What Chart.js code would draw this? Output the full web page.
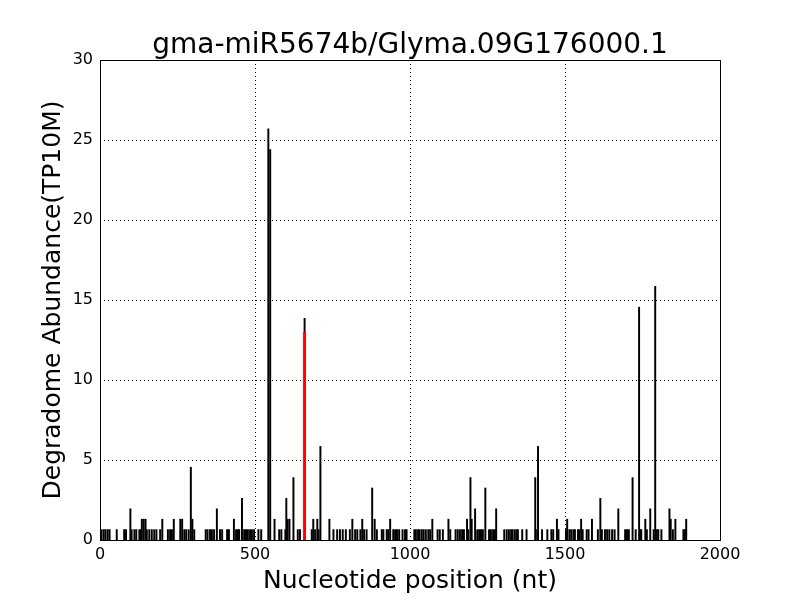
<!DOCTYPE html>
<html>
<head>
<meta charset="utf-8">
<script src="https://cdn.jsdelivr.net/npm/chart.js@4/dist/chart.umd.min.js"></script>
<style>
  html, body { margin: 0; padding: 0; background: #fff; }
  #wrap { width: 800px; height: 600px; }
</style>
</head>
<body>
<div id="wrap"><canvas id="c" width="800" height="600"></canvas></div>
<script>
const chartTitle = "gma-miR5674b/Glyma.09G176000.1";
const xAxisTitle = "Nucleotide position (nt)";
const yAxisTitle = "Degradome Abundance(TP10M)";
const xTicks = [0, 500, 1000, 1500, 2000];
const yTicks = [0, 5, 10, 15, 20, 25, 30];

// Degradome tags: positions (nt) and abundance (TP10M)
const tagPositions = [
  5, 12, 18, 25, 31, 54, 78, 84, 98, 102, 111, 117, 127, 131, 135, 141, 147, 151, 159, 167,
  175, 182, 194, 201, 219, 226, 232, 238, 259, 265, 272, 278, 286, 293, 298, 304,
  341, 347, 355, 361, 368, 377, 387, 394, 410, 416, 432, 439, 445, 449, 458, 465, 471, 477,
  484, 490, 497, 511, 520, 543, 549, 563, 578, 585, 598, 601, 605, 611, 624, 638, 645, 660,
  683, 688, 694, 701, 705, 711, 740, 753, 765, 774, 783, 793, 806, 814, 823, 830, 840, 846,
  852, 860, 878, 886, 893, 909, 914, 925, 930, 936, 946, 952, 958, 965, 976, 984, 989,
  1014, 1019, 1026, 1031, 1038, 1044, 1051, 1059, 1065, 1072, 1089, 1096, 1106, 1124, 1130,
  1147, 1154, 1161, 1168, 1174, 1184, 1188, 1195, 1199, 1210, 1217, 1223, 1229, 1235, 1243,
  1255, 1261, 1268, 1274, 1278, 1304, 1312, 1319, 1326, 1331, 1338, 1344, 1348, 1362, 1376,
  1404, 1406, 1413, 1426, 1443, 1456, 1462, 1474, 1479, 1503, 1507, 1514, 1520, 1527, 1532,
  1542, 1546, 1552, 1557, 1570, 1576, 1587, 1606, 1614, 1619, 1629, 1636, 1643, 1652, 1660,
  1672, 1694, 1700, 1706, 1718, 1728, 1739, 1743, 1746, 1759, 1764, 1775, 1786, 1791, 1796,
  1801, 1811, 1837, 1841, 1848, 1856, 1882, 1887, 1891
];
const tagValues = [
  0.65, 0.65, 0.65, 0.65, 0.65, 0.65, 0.65, 0.65, 1.95, 0.65, 0.65, 0.65, 0.65, 0.65, 1.3, 1.3, 1.3, 0.65, 0.65, 0.65,
  0.65, 0.65, 0.65, 1.3, 0.65, 0.65, 0.65, 1.3, 1.3, 1.3, 0.65, 0.65, 0.65, 4.55, 1.3, 0.65,
  0.65, 0.65, 0.65, 0.65, 0.65, 1.95, 0.65, 0.65, 0.65, 0.65, 1.3, 0.65, 0.65, 0.65, 2.6, 0.65, 0.65, 0.65,
  0.65, 0.65, 0.65, 0.65, 0.65, 25.7, 24.4, 1.3, 0.65, 0.65, 0.65, 2.6, 1.3, 1.3, 3.9, 0.65, 0.65, 13.85,
  0.65, 1.3, 0.65, 1.3, 0.65, 5.85, 1.3, 0.65, 0.65, 0.65, 0.65, 0.65, 0.65, 1.3, 0.65, 0.65, 0.65, 1.3,
  0.65, 0.65, 3.25, 1.3, 0.65, 0.65, 0.65, 0.65, 0.65, 1.3, 0.65, 0.65, 0.65, 0.65, 0.65, 0.65, 0.65,
  0.65, 0.65, 0.65, 0.65, 0.65, 0.65, 0.65, 0.65, 0.65, 1.3, 0.65, 0.65, 0.65, 1.3, 0.65,
  0.65, 0.65, 0.65, 0.65, 0.65, 1.3, 0.65, 3.9, 1.3, 1.95, 0.65, 0.65, 0.65, 0.65, 3.25,
  0.65, 0.65, 0.65, 0.65, 1.95, 0.65, 0.65, 0.65, 0.65, 0.65, 0.65, 0.65, 0.65, 0.65, 0.65,
  3.9, 0.65, 5.85, 0.65, 0.65, 0.65, 0.65, 1.3, 0.65, 0.65, 1.3, 0.65, 0.65, 0.65, 0.65,
  0.65, 0.65, 1.3, 0.65, 0.65, 0.65, 1.3, 0.65, 2.6, 0.65, 0.65, 0.65, 0.65, 0.65, 0.65,
  1.95, 0.65, 0.65, 0.65, 3.9, 0.65, 14.55, 0.65, 0.65, 1.3, 0.65, 1.95, 0.65, 15.85, 0.65,
  0.65, 0.65, 1.95, 1.3, 0.65, 1.3, 0.65, 0.65, 1.3
];
// Cleavage site highlighted in red
const sitePositions = [660];
const siteValues = [13.0];

const FONT = "'DejaVu Sans', sans-serif";

const framePlugin = {
  id: 'frame',
  beforeDatasetsDraw(chart) {
    const {ctx, chartArea: a, scales} = chart;
    ctx.save();
    ctx.strokeStyle = '#000';
    ctx.lineWidth = 1;
    ctx.setLineDash([1, 3]);
    xTicks.forEach(v => {
      const x = Math.round(scales.x.getPixelForValue(v)) + 0.5;
      ctx.beginPath(); ctx.moveTo(x, a.top); ctx.lineTo(x, a.bottom); ctx.stroke();
    });
    yTicks.forEach(v => {
      const y = Math.round(scales.y.getPixelForValue(v)) + 0.5;
      ctx.beginPath(); ctx.moveTo(a.left, y); ctx.lineTo(a.right, y); ctx.stroke();
    });
    ctx.restore();
  },
  afterDraw(chart) {
    const {ctx, chartArea: a} = chart;
    ctx.save();
    ctx.strokeStyle = '#000';
    ctx.lineWidth = 1;
    ctx.strokeRect(Math.round(a.left) + 0.5, Math.round(a.top) + 0.5,
                   Math.round(a.right - a.left), Math.round(a.bottom - a.top));
    ctx.fillStyle = '#000';
    ctx.font = '28px ' + FONT;
    ctx.textAlign = 'center';
    ctx.textBaseline = 'alphabetic';
    ctx.fillText(chartTitle, (a.left + a.right) / 2, 53);
    ctx.restore();
  }
};

new Chart(document.getElementById('c'), {
  type: 'bar',
  data: {
    datasets: [
      {
        label: 'site',
        data: sitePositions.map((p, i) => ({x: p, y: siteValues[i]})),
        backgroundColor: '#ff0000',
        barThickness: 2.2,
        grouped: false
      },
      {
        label: 'tags',
        data: tagPositions.map((p, i) => ({x: p, y: tagValues[i]})),
        backgroundColor: '#000000',
        barThickness: 1.3,
        grouped: false
      }
    ]
  },
  options: {
    responsive: false,
    animation: false,
    devicePixelRatio: 1,
    layout: { padding: { left: 0, right: 80, top: 60, bottom: 0 } },
    plugins: { legend: { display: false }, tooltip: { enabled: false }, title: { display: false } },
    scales: {
      x: {
        type: 'linear',
        min: 0, max: 2000,
        offset: false,
        afterBuildTicks: s => { s.ticks = xTicks.map(v => ({value: v})); },
        afterFit: s => { s.height = 60; },
        grid: { display: false, drawTicks: false },
        border: { display: false },
        ticks: { color: '#000', font: { family: FONT, size: 16 }, padding: 5, maxRotation: 0, autoSkip: false,
                 callback: v => String(v) },
        title: { display: true, text: xAxisTitle, color: '#000', font: { family: FONT, size: 25 }, padding: { top: 0, bottom: 4 } }
      },
      y: {
        min: 0, max: 30,
        afterBuildTicks: s => { s.ticks = yTicks.map(v => ({value: v})); },
        afterFit: s => { s.width = 100; },
        grid: { display: false, drawTicks: false },
        border: { display: false },
        ticks: { color: '#000', font: { family: FONT, size: 16 }, padding: 7, callback: v => String(v) },
        title: { display: true, text: yAxisTitle, color: '#000', font: { family: FONT, size: 25 }, padding: { top: 38, bottom: 0 } }
      }
    }
  },
  plugins: [framePlugin]
});
</script>
</body>
</html>
